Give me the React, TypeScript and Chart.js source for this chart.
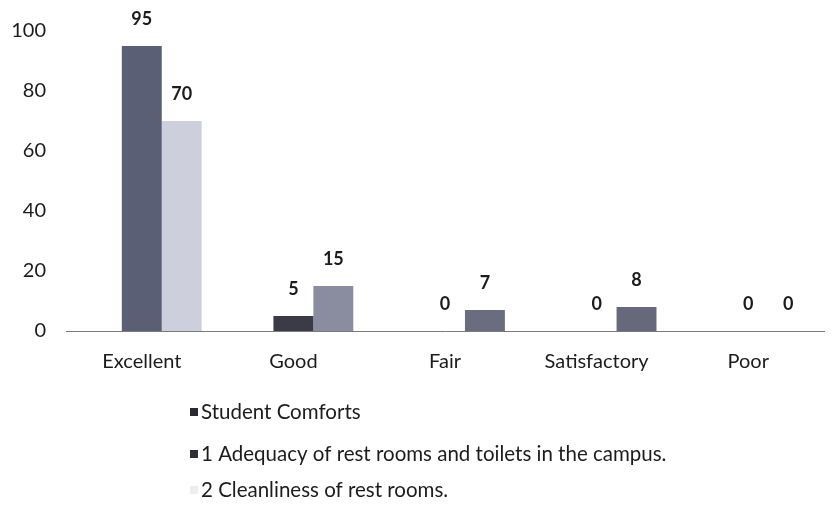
import React, { useEffect, useRef } from "react";
import { Chart, registerables } from "chart.js";

Chart.register(...registerables);

const categories = ["Excellent", "Good", "Fair", "Satisfactory", "Poor"];
const seriesNames = [
  "Student Comforts",
  "1 Adequacy of rest rooms and toilets in the campus.",
  "2 Cleanliness of rest rooms.",
];
const studentComforts: (number | null)[] = [null, null, null, null, null];
const adequacy = [95, 5, 0, 0, 0];
const cleanliness = [70, 15, 7, 8, 0];
const yTicks = [0, 20, 40, 60, 80, 100];

const adequacyColors = ["#5a5f75", "#3a3b46", "#5a5f75", "#5a5f75", "#5a5f75"];
const cleanlinessColors = ["#cdcfdc", "#8a8da0", "#6a6d80", "#66697c", "#8a8d9c"];
const legendColors = ["#2a2a31", "#2e2f37", "#eeeef2"];

const FONT = "Lato, 'Open Sans', sans-serif";

const valueLabels = {
  id: "valueLabels",
  afterDatasetsDraw(chart: any) {
    const ctx = chart.ctx;
    ctx.save();
    ctx.font = `bold 18px ${FONT}`;
    ctx.fillStyle = "#1c1c1c";
    ctx.textAlign = "center";
    ctx.textBaseline = "middle";
    [1, 2].forEach((di) => {
      const meta = chart.getDatasetMeta(di);
      const data = chart.data.datasets[di].data;
      meta.data.forEach((el: any, i: number) => {
        const v = data[i];
        if (v === null || v === undefined) return;
        ctx.fillText(String(v), el.x, el.y - 27);
      });
    });
    ctx.restore();
  },
};

const customLegend = {
  id: "customLegend",
  afterDraw(chart: any) {
    const ctx = chart.ctx;
    const rows = [404, 446, 482];
    ctx.save();
    ctx.font = `20.5px ${FONT}`;
    ctx.textBaseline = "middle";
    ctx.textAlign = "left";
    chart.data.datasets.forEach((ds: any, i: number) => {
      const y = rows[i];
      ctx.fillStyle = legendColors[i];
      ctx.fillRect(182, y - 4, 8, 8);
      ctx.fillStyle = "#1c1c1c";
      ctx.fillText(ds.label, 193, y);
    });
    ctx.restore();
  },
};

export default function App() {
  const ref = useRef<HTMLCanvasElement>(null);
  useEffect(() => {
    if (!ref.current) return;
    const chart = new Chart(ref.current, {
      type: "bar",
      data: {
        labels: categories,
        datasets: [
          {
            label: seriesNames[0],
            data: studentComforts,
            backgroundColor: legendColors[0],
          },
          {
            label: seriesNames[1],
            data: adequacy,
            backgroundColor: adequacyColors,
          },
          {
            label: seriesNames[2],
            data: cleanliness,
            backgroundColor: cleanlinessColors,
          },
        ],
      },
      options: {
        animation: false,
        responsive: true,
        maintainAspectRatio: false,
        layout: { padding: { top: 23, right: 6, bottom: 150, left: 0 } },
        datasets: { bar: { categoryPercentage: 0.79, barPercentage: 1 } },
        plugins: {
          legend: { display: false },
          tooltip: { enabled: false },
        },
        scales: {
          x: {
            grid: { display: false, drawTicks: false },
            border: { display: true, color: "#7a7a7a", width: 1 },
            ticks: {
              font: { family: FONT, size: 20 },
              color: "#1c1c1c",
              padding: 19,
              maxRotation: 0,
            },
            afterFit(scale: any) {
              scale.height = 40;
              scale.paddingLeft = 0;
              scale.paddingRight = 0;
            },
          },
          y: {
            min: 0,
            max: 100,
            afterBuildTicks(scale: any) {
              scale.ticks = yTicks.map((v) => ({ value: v }));
            },
            grid: { display: false, drawTicks: false },
            border: { display: false },
            ticks: {
              font: { family: FONT, size: 20 },
              color: "#1c1c1c",
              padding: 20,
            },
            afterFit(scale: any) {
              scale.width = 58;
              scale.paddingTop = 0;
              scale.paddingBottom = 0;
            },
          },
        },
      },
      plugins: [valueLabels, customLegend],
    });
    return () => chart.destroy();
  }, []);
  return (
    <div style={{ width: 822, height: 513, position: "relative" }}>
      <canvas ref={ref} />
    </div>
  );
}
